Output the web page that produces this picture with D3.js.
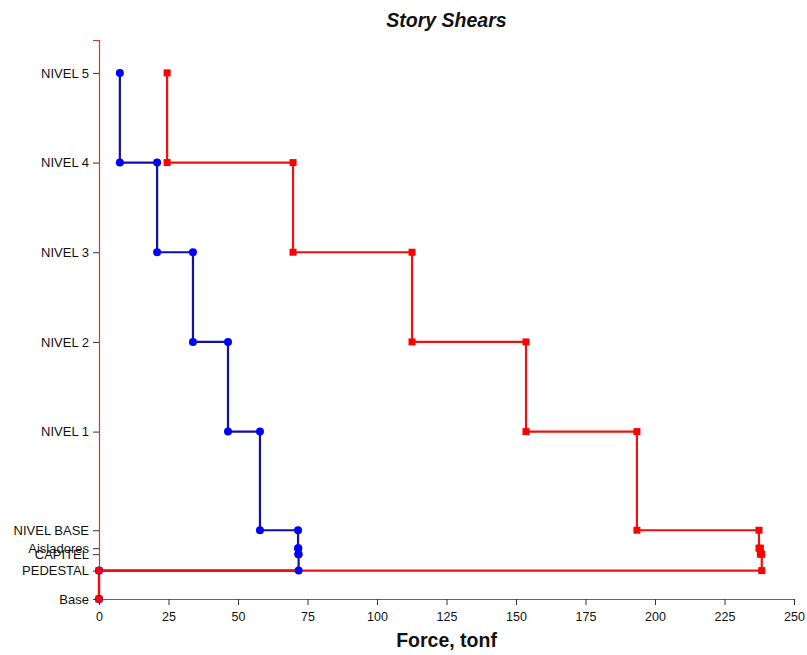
<!DOCTYPE html>
<html>
<head>
<meta charset="utf-8">
<script src="https://cdn.jsdelivr.net/npm/d3@7"></script>
<style>
  html, body { margin: 0; padding: 0; background: #fff; }
  svg { display: block; font-family: "Liberation Sans", Arial, sans-serif; }
</style>
</head>
<body>
<svg id="chart" width="807" height="655"></svg>
<script>
// Level names and elevations (m, estimated)
const levelNames = ["Base", "PEDESTAL", "CAPITEL", "Aisladores", "NIVEL BASE", "NIVEL 1", "NIVEL 2", "NIVEL 3", "NIVEL 4", "NIVEL 5"];
const levelElev  = [0, 0.95, 1.5, 1.7, 2.3, 5.6, 8.6, 11.6, 14.6, 17.6];

// Stories from top to bottom: [top level, bottom level]
const storyTop    = ["NIVEL 5", "NIVEL 4", "NIVEL 3", "NIVEL 2", "NIVEL 1", "NIVEL BASE", "Aisladores", "CAPITEL", "PEDESTAL"];
const storyBottom = ["NIVEL 4", "NIVEL 3", "NIVEL 2", "NIVEL 1", "NIVEL BASE", "Aisladores", "CAPITEL", "PEDESTAL", "Base"];

// Story shears (tonf)
const shearBlue = [7.5, 20.9, 33.8, 46.4, 57.9, 71.6, 71.7, 71.8, 0];
const shearRed  = [24.5, 69.8, 112.6, 153.6, 193.5, 237.4, 237.9, 238.4, 0];

const xTicks = [0, 25, 50, 75, 100, 125, 150, 175, 200, 225, 250];
const title = "Story Shears";
const xTitle = "Force, tonf";

const svg = d3.select("#chart");
const mLeft = 99, mRight = 794, mTop = 40, mBottom = 599;

const x = d3.scaleLinear().domain([0, 250]).range([mLeft, mRight]);
const y = d3.scaleLinear().domain([0, 18.7]).range([mBottom, mTop]);
const elevOf = name => levelElev[levelNames.indexOf(name)];

function stepPoints(shears) {
  const pts = [];
  shears.forEach((v, i) => {
    pts.push([v, elevOf(storyTop[i])]);
    pts.push([v, elevOf(storyBottom[i])]);
  });
  return pts;
}

const bluePts = stepPoints(shearBlue);
const redPts = stepPoints(shearRed);
const line = d3.line().x(d => x(d[0])).y(d => y(d[1]));

// Axes
const xAxis = d3.axisBottom(x).tickValues(xTicks).tickSize(6).tickPadding(7).tickFormat(d3.format("d"));
const gx = svg.append("g").attr("transform", `translate(0,${mBottom})`).call(xAxis);
gx.select(".domain").attr("stroke", "#e03030").attr("stroke-width", 1.2);
gx.selectAll(".tick line").attr("stroke", "#333");
gx.selectAll(".tick text").attr("fill", "#111").style("font-size", "12.5px");

const yAxis = d3.axisLeft(y).tickValues(levelElev).tickSize(6).tickPadding(4)
  .tickFormat((d, i) => levelNames[i]);
const gy = svg.append("g").attr("transform", `translate(${mLeft},0)`).call(yAxis);
gy.select(".domain").attr("stroke", "#e03030").attr("stroke-width", 1.2);
gy.selectAll(".tick line").attr("stroke", "#333");
gy.selectAll(".tick text").attr("fill", "#111").style("font-size", "13px");

// Lines
svg.append("path").datum(bluePts).attr("d", line)
  .attr("fill", "none").attr("stroke", "#1010a8").attr("stroke-width", 2.2);
svg.append("path").datum(redPts).attr("d", line)
  .attr("fill", "none").attr("stroke", "#ee1111").attr("stroke-width", 2.2);

// Markers
svg.append("g").selectAll("circle").data(bluePts).join("circle")
  .attr("cx", d => x(d[0])).attr("cy", d => y(d[1])).attr("r", 4)
  .attr("fill", "#0000ff");
svg.append("g").selectAll("rect").data(redPts).join("rect")
  .attr("x", d => x(d[0]) - 3.5).attr("y", d => y(d[1]) - 3.5)
  .attr("width", 7).attr("height", 7).attr("fill", "#ff0000");

// Titles
svg.append("text").attr("x", (mLeft + mRight) / 2).attr("y", 27)
  .attr("text-anchor", "middle").style("font-size", "19.5px")
  .style("font-weight", "bold").style("font-style", "italic").attr("fill", "#111")
  .text(title);
svg.append("text").attr("x", (mLeft + mRight) / 2).attr("y", 647)
  .attr("text-anchor", "middle").style("font-size", "19.5px")
  .style("font-weight", "bold").attr("fill", "#111")
  .text(xTitle);
</script>
</body>
</html>
